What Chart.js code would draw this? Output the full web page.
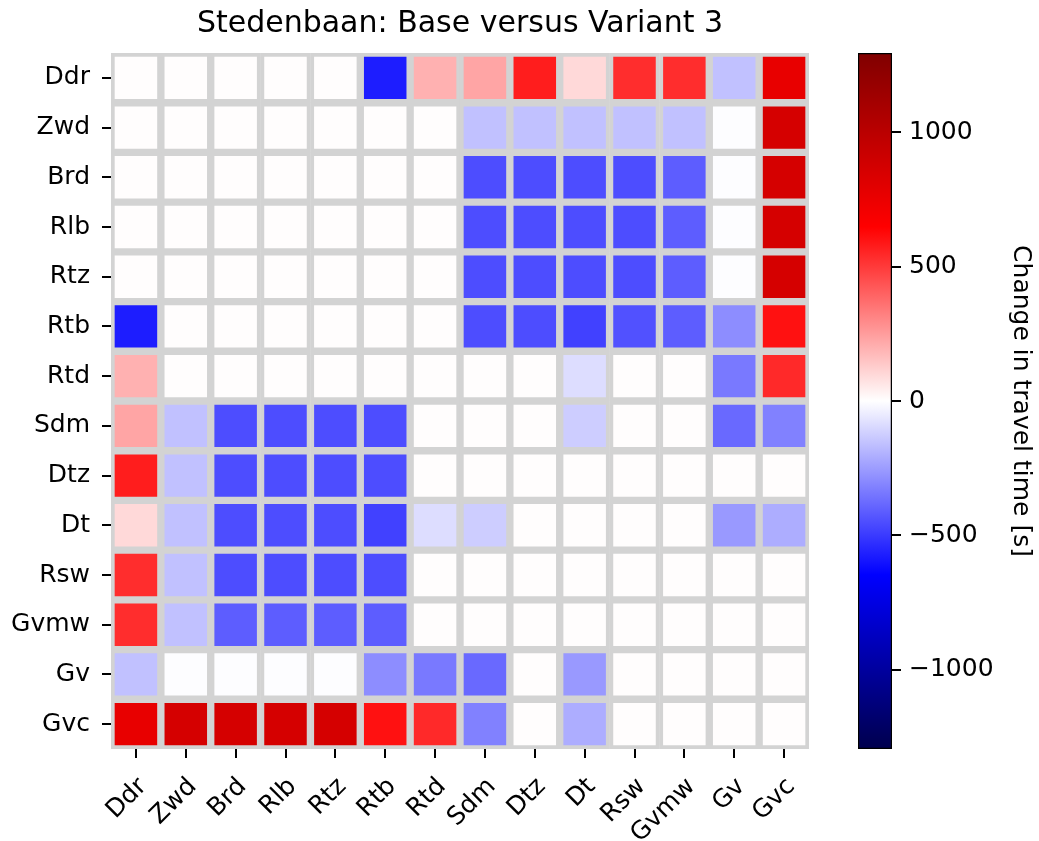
<!DOCTYPE html>
<html>
<head>
<meta charset="utf-8">
<script src="https://cdn.jsdelivr.net/npm/chart.js@4.4.0/dist/chart.umd.min.js"></script>
<style>
  body { margin: 0; background: #fff; }
  #wrap { position: relative; width: 1039px; height: 841px; }
  #heat { position: absolute; left: 0; top: 0; }
  #bar { position: absolute; left: 809px; top: 0; }
</style>
</head>
<body>
<div id="wrap">
  <canvas id="heat" width="809" height="841"></canvas>
  <canvas id="bar" width="230" height="841"></canvas>
</div>
<script>
// station codes, same order on both axes
const stations = ['Ddr', 'Zwd', 'Brd', 'Rlb', 'Rtz', 'Rtb', 'Rtd', 'Sdm', 'Dtz', 'Dt', 'Rsw', 'Gvmw', 'Gv', 'Gvc'];

// change in travel time [s], one row per origin station
const changes = [
  [0, 0, 0, 0, 0, -571, 201, 228, 571, 101, 533, 533, -152, 764],
  [0, 0, 0, 0, 0, 0, 0, -152, -152, -152, -152, -152, -8, 851],
  [0, 0, 0, 0, 0, 0, 0, -449, -449, -449, -449, -406, -8, 851],
  [0, 0, 0, 0, 0, 0, 0, -449, -449, -449, -449, -406, -8, 851],
  [0, 0, 0, 0, 0, 0, 0, -449, -449, -449, -449, -406, -8, 851],
  [-571, 0, 0, 0, 0, 0, 0, -449, -455, -482, -443, -406, -292, 597],
  [201, 0, 0, 0, 0, 0, 0, 0, 0, -89, 0, 0, -343, 546],
  [228, -152, -449, -449, -449, -449, 0, 0, 0, -127, 0, 0, -381, -322],
  [571, -152, -455, -455, -455, -455, 0, 0, 0, 0, 0, 0, 0, 0],
  [101, -160, -455, -455, -455, -482, -89, -127, 0, 0, 0, 0, -254, -203],
  [533, -152, -455, -455, -455, -449, 0, 0, 0, 0, 0, 0, 0, 0],
  [533, -152, -406, -406, -406, -406, 0, 0, 0, 0, 0, 0, 0, 0],
  [-152, -8, -8, -8, -8, -292, -343, -381, 0, -254, 0, 0, 0, 0],
  [764, 851, 851, 851, 851, 597, 546, -322, 0, -203, 0, 0, 0, 0]
];

const vmax = 1295;
const cbarTicks = [-1000, -500, 0, 500, 1000];

// seismic colour map: dark blue -> blue -> white -> red -> dark red
const seismicNodes = [
  [0, 0, 0, 0.3],
  [0.25, 0, 0, 1],
  [0.5, 1, 1, 1],
  [0.75, 1, 0, 0],
  [1, 0.5, 0, 0]
];

function seismic(v) {
  const t = (v + vmax) / (2 * vmax);
  const x = Math.min(255, Math.max(0, Math.floor(t * 256))) / 255;
  let k = 0;
  while (k < seismicNodes.length - 2 && x > seismicNodes[k + 1][0]) k++;
  const a = seismicNodes[k], b = seismicNodes[k + 1];
  const f = (x - a[0]) / (b[0] - a[0]);
  const c = [1, 2, 3].map(i => Math.round(255 * (a[i] + (b[i] - a[i]) * f)));
  return `rgb(${c[0]},${c[1]},${c[2]})`;
}

const font = { family: 'DejaVu Sans', size: 25 };
const tickGrid = { drawOnChartArea: false, color: '#000', lineWidth: 2, tickLength: 9 };

new Chart(document.getElementById('heat'), {
  type: 'bar',
  data: {
    labels: stations,
    datasets: changes.map((row, r) => ({
      label: stations[r],
      data: row.map(() => [r, r + 1]),
      backgroundColor: row.map(seismic),
      borderColor: '#d3d3d3',
      borderWidth: 4,
      borderSkipped: false,
      grouped: false,
      barPercentage: 1,
      categoryPercentage: 1
    }))
  },
  options: {
    responsive: false,
    animation: false,
    layout: { padding: 0 },
    plugins: {
      legend: { display: false },
      tooltip: { enabled: false },
      title: {
        display: true,
        text: 'Stedenbaan: Base versus Variant 3',
        color: '#000',
        fullSize: false,
        font: { family: 'DejaVu Sans', size: 30, weight: 'normal' },
        padding: { top: 6, bottom: 11 }
      }
    },
    scales: {
      x: {
        grid: { ...tickGrid, offset: false },
        border: { display: false },
        ticks: { color: '#000', font, minRotation: 45, maxRotation: 45, padding: 14, labelOffset: 7, autoSkip: false },
        afterFit: s => {
          s.height = 92;
          s.paddingLeft = 0;
          s.paddingRight = 0;
        }
      },
      y: {
        type: 'linear',
        min: 0,
        max: 14,
        reverse: true,
        grid: tickGrid,
        border: { display: false },
        afterBuildTicks: s => { s.ticks = stations.map((_, i) => ({ value: i + 0.5 })); },
        ticks: { color: '#000', font, padding: 12, autoSkip: false, callback: v => stations[Math.floor(v)] },
        afterFit: s => {
          s.width = 111;
          s.paddingTop = 0;
          s.paddingBottom = 0;
        }
      }
    }
  }
});

// colour bar: one floating bar filled with the colour map
function barGradient(chart) {
  const y = chart.scales.y;
  if (!chart.chartArea || !y) return '#fff';
  const g = chart.ctx.createLinearGradient(0, y.getPixelForValue(-vmax), 0, y.getPixelForValue(vmax));
  seismicNodes.forEach(n => g.addColorStop(n[0], `rgb(${255 * n[1]},${255 * n[2]},${255 * n[3]})`));
  return g;
}

new Chart(document.getElementById('bar'), {
  type: 'bar',
  data: {
    labels: [''],
    datasets: [{
      data: [[-vmax, vmax]],
      backgroundColor: ctx => barGradient(ctx.chart),
      borderColor: '#000',
      borderWidth: 1.6,
      borderSkipped: false,
      barPercentage: 1,
      categoryPercentage: 1
    }]
  },
  options: {
    responsive: false,
    animation: false,
    layout: { padding: { left: 49, top: 53, bottom: 92, right: 0 } },
    plugins: { legend: { display: false }, tooltip: { enabled: false } },
    scales: {
      x: { display: false },
      y: {
        position: 'right',
        min: -vmax,
        max: vmax,
        grid: tickGrid,
        border: { display: false },
        afterBuildTicks: s => { s.ticks = cbarTicks.map(v => ({ value: v })); },
        ticks: { color: '#000', font, padding: 8, callback: v => (v < 0 ? '\u2212' + Math.abs(v) : String(v)) },
        title: { display: true, text: 'Change in travel time [s]', color: '#000', font, padding: { top: 4, bottom: 0 } },
        afterFit: s => { s.width = 147; }
      }
    }
  }
});
</script>
</body>
</html>
